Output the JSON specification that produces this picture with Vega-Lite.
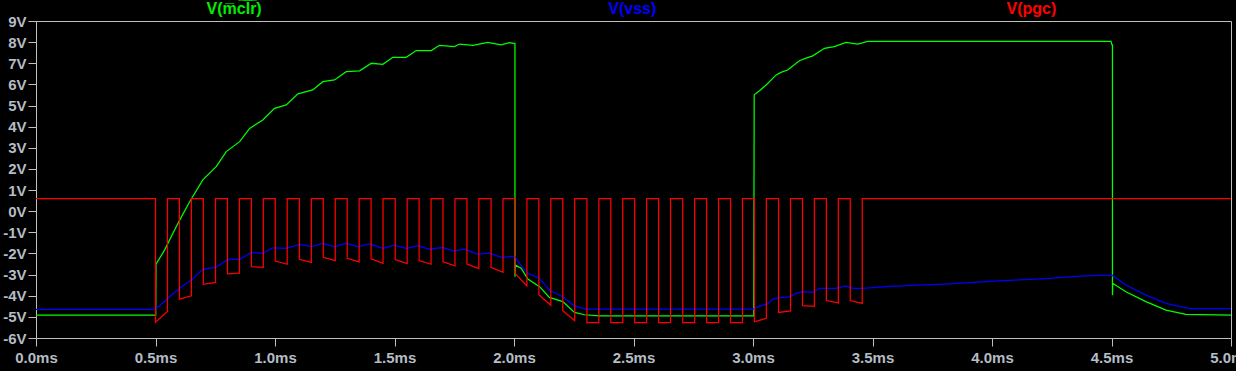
{
  "$schema": "https://vega.github.io/schema/vega-lite/v6.json",
  "width": 1195,
  "height": 317,
  "autosize": "none",
  "padding": {"left": 36, "top": 21, "right": 5, "bottom": 33},
  "background": "#000000",
  "config": {
    "view": {"stroke": "#c0c0c0", "strokeWidth": 1},
    "axis": {
      "grid": false,
      "domain": false,
      "title": null,
      "tickColor": "#c0c0c0",
      "tickSize": 8,
      "labelColor": "#b4bcc4",
      "labelFont": "Liberation Sans",
      "labelFontWeight": "bold",
      "labelFontSize": 15
    }
  },
  "datasets": {
    "mclr": [
      {"t":0,"v":-4.92},{"t":0.501,"v":-4.92},{"t":0.502,"v":-2.51},{"t":0.538,"v":-1.84},{"t":0.566,"v":-1.2},{"t":0.601,"v":-0.42},{"t":0.643,"v":0.45},{"t":0.698,"v":1.48},{"t":0.754,"v":2.11},{"t":0.796,"v":2.82},{"t":0.852,"v":3.29},{"t":0.894,"v":3.92},{"t":0.949,"v":4.32},{"t":0.998,"v":4.87},{"t":1.047,"v":5.03},{"t":1.096,"v":5.55},{"t":1.158,"v":5.74},{"t":1.2,"v":6.13},{"t":1.249,"v":6.21},{"t":1.298,"v":6.6},{"t":1.354,"v":6.64},{"t":1.403,"v":7.0},{"t":1.451,"v":6.95},{"t":1.493,"v":7.28},{"t":1.549,"v":7.28},{"t":1.591,"v":7.6},{"t":1.654,"v":7.6},{"t":1.688,"v":7.85},{"t":1.751,"v":7.79},{"t":1.772,"v":7.91},{"t":1.828,"v":7.85},{"t":1.89,"v":7.99},{"t":1.946,"v":7.87},{"t":1.981,"v":7.98},{"t":2.004,"v":7.93},{"t":2.004,"v":-3.1},{"t":2.006,"v":-2.55},{"t":2.03,"v":-2.7},{"t":2.058,"v":-3.21},{"t":2.107,"v":-3.57},{"t":2.148,"v":-4.08},{"t":2.204,"v":-4.28},{"t":2.253,"v":-4.79},{"t":2.295,"v":-4.9},{"t":2.357,"v":-4.95},{"t":3.003,"v":-4.95},{"t":3.005,"v":5.51},{"t":3.027,"v":5.7},{"t":3.055,"v":5.97},{"t":3.097,"v":6.45},{"t":3.117,"v":6.57},{"t":3.145,"v":6.68},{"t":3.194,"v":7.12},{"t":3.222,"v":7.24},{"t":3.25,"v":7.35},{"t":3.299,"v":7.71},{"t":3.34,"v":7.79},{"t":3.389,"v":7.99},{"t":3.438,"v":7.91},{"t":3.48,"v":8.04},{"t":4.498,"v":8.04},{"t":4.502,"v":7.87},{"t":4.504,"v":7.87},{"t":4.504,"v":-3.98},{"t":4.505,"v":-3.41},{"t":4.56,"v":-3.81},{"t":4.644,"v":-4.28},{"t":4.728,"v":-4.68},{"t":4.811,"v":-4.88},{"t":5.0,"v":-4.92}
    ],
    "vss": [
      {"t":0,"v":-4.64},{"t":0.5,"v":-4.64},{"t":0.559,"v":-4.05},{"t":0.601,"v":-3.65},{"t":0.65,"v":-3.26},{"t":0.698,"v":-2.75},{"t":0.754,"v":-2.65},{"t":0.803,"v":-2.28},{"t":0.852,"v":-2.28},{"t":0.901,"v":-1.95},{"t":0.949,"v":-1.99},{"t":0.991,"v":-1.73},{"t":1.047,"v":-1.76},{"t":1.103,"v":-1.57},{"t":1.152,"v":-1.68},{"t":1.2,"v":-1.52},{"t":1.249,"v":-1.68},{"t":1.298,"v":-1.52},{"t":1.347,"v":-1.68},{"t":1.396,"v":-1.55},{"t":1.451,"v":-1.76},{"t":1.5,"v":-1.61},{"t":1.549,"v":-1.76},{"t":1.598,"v":-1.63},{"t":1.647,"v":-1.8},{"t":1.702,"v":-1.71},{"t":1.744,"v":-1.88},{"t":1.793,"v":-1.8},{"t":1.849,"v":-2.04},{"t":1.898,"v":-1.98},{"t":1.946,"v":-2.18},{"t":2.002,"v":-2.14},{"t":2.03,"v":-2.59},{"t":2.058,"v":-2.94},{"t":2.107,"v":-3.18},{"t":2.148,"v":-3.73},{"t":2.204,"v":-4.05},{"t":2.253,"v":-4.49},{"t":2.302,"v":-4.63},{"t":3.0,"v":-4.63},{"t":3.027,"v":-4.49},{"t":3.061,"v":-4.39},{"t":3.082,"v":-4.17},{"t":3.11,"v":-4.09},{"t":3.152,"v":-4.05},{"t":3.18,"v":-3.89},{"t":3.208,"v":-3.81},{"t":3.25,"v":-3.84},{"t":3.278,"v":-3.65},{"t":3.348,"v":-3.65},{"t":3.389,"v":-3.54},{"t":3.417,"v":-3.65},{"t":3.459,"v":-3.65},{"t":3.571,"v":-3.56},{"t":3.82,"v":-3.44},{"t":4.03,"v":-3.3},{"t":4.24,"v":-3.18},{"t":4.351,"v":-3.08},{"t":4.449,"v":-3.04},{"t":4.504,"v":-3.04},{"t":4.56,"v":-3.49},{"t":4.644,"v":-3.97},{"t":4.728,"v":-4.36},{"t":4.825,"v":-4.61},{"t":5.0,"v":-4.61}
    ],
    "pgc": [
      {"t":0,"v":0.6},{"t":0.5,"v":0.6},{"t":0.5,"v":-5.25},{"t":0.55,"v":-4.75},{"t":0.55,"v":0.6},
      {"t":0.6,"v":0.6},{"t":0.6,"v":-4.16},{"t":0.65,"v":-4.0},{"t":0.65,"v":0.6},
      {"t":0.7,"v":0.6},{"t":0.7,"v":-3.46},{"t":0.751,"v":-3.37},{"t":0.751,"v":0.6},
      {"t":0.801,"v":0.6},{"t":0.801,"v":-2.96},{"t":0.851,"v":-2.93},{"t":0.851,"v":0.6},
      {"t":0.901,"v":0.6},{"t":0.901,"v":-2.62},{"t":0.951,"v":-2.66},{"t":0.951,"v":0.6},
      {"t":1.001,"v":0.6},{"t":1.001,"v":-2.36},{"t":1.051,"v":-2.51},{"t":1.051,"v":0.6},
      {"t":1.102,"v":0.6},{"t":1.102,"v":-2.28},{"t":1.152,"v":-2.42},{"t":1.152,"v":0.6},
      {"t":1.202,"v":0.6},{"t":1.202,"v":-2.18},{"t":1.252,"v":-2.34},{"t":1.252,"v":0.6},
      {"t":1.302,"v":0.6},{"t":1.302,"v":-2.23},{"t":1.352,"v":-2.4},{"t":1.352,"v":0.6},
      {"t":1.402,"v":0.6},{"t":1.402,"v":-2.25},{"t":1.452,"v":-2.47},{"t":1.452,"v":0.6},
      {"t":1.503,"v":0.6},{"t":1.503,"v":-2.29},{"t":1.553,"v":-2.48},{"t":1.553,"v":0.6},
      {"t":1.603,"v":0.6},{"t":1.603,"v":-2.34},{"t":1.653,"v":-2.51},{"t":1.653,"v":0.6},
      {"t":1.703,"v":0.6},{"t":1.703,"v":-2.4},{"t":1.753,"v":-2.59},{"t":1.753,"v":0.6},
      {"t":1.803,"v":0.6},{"t":1.803,"v":-2.5},{"t":1.853,"v":-2.72},{"t":1.853,"v":0.6},
      {"t":1.904,"v":0.6},{"t":1.904,"v":-2.66},{"t":1.954,"v":-2.89},{"t":1.954,"v":0.6},
      {"t":2.004,"v":0.6},{"t":2.004,"v":-2.94},{"t":2.054,"v":-3.54},{"t":2.054,"v":0.6},
      {"t":2.104,"v":0.6},{"t":2.104,"v":-3.95},{"t":2.154,"v":-4.45},{"t":2.154,"v":0.6},
      {"t":2.204,"v":0.6},{"t":2.204,"v":-4.71},{"t":2.254,"v":-5.18},{"t":2.254,"v":0.6},
      {"t":2.305,"v":0.6},{"t":2.305,"v":-5.27},{"t":2.355,"v":-5.27},{"t":2.355,"v":0.6},
      {"t":2.405,"v":0.6},{"t":2.405,"v":-5.27},{"t":2.455,"v":-5.27},{"t":2.455,"v":0.6},
      {"t":2.505,"v":0.6},{"t":2.505,"v":-5.27},{"t":2.555,"v":-5.27},{"t":2.555,"v":0.6},
      {"t":2.605,"v":0.6},{"t":2.605,"v":-5.27},{"t":2.655,"v":-5.27},{"t":2.655,"v":0.6},
      {"t":2.706,"v":0.6},{"t":2.706,"v":-5.27},{"t":2.756,"v":-5.27},{"t":2.756,"v":0.6},
      {"t":2.806,"v":0.6},{"t":2.806,"v":-5.27},{"t":2.856,"v":-5.27},{"t":2.856,"v":0.6},
      {"t":2.906,"v":0.6},{"t":2.906,"v":-5.27},{"t":2.956,"v":-5.27},{"t":2.956,"v":0.6},
      {"t":3.006,"v":0.6},{"t":3.006,"v":-5.23},{"t":3.056,"v":-5.07},{"t":3.056,"v":0.6},
      {"t":3.107,"v":0.6},{"t":3.107,"v":-4.79},{"t":3.157,"v":-4.72},{"t":3.157,"v":0.6},
      {"t":3.207,"v":0.6},{"t":3.207,"v":-4.47},{"t":3.257,"v":-4.5},{"t":3.257,"v":0.6},
      {"t":3.307,"v":0.6},{"t":3.307,"v":-4.23},{"t":3.357,"v":-4.34},{"t":3.357,"v":0.6},
      {"t":3.407,"v":0.6},{"t":3.407,"v":-4.23},{"t":3.457,"v":-4.36},{"t":3.457,"v":0.6},
      {"t":5.0,"v":0.6}
    ],
    "labels": [
      {"s":"mclr","label":"V(m\u0305c\u0305l\u0305r\u0305)","t":0.829,"v":9.57},
      {"s":"vss","label":"V(vss)","t":2.495,"v":9.57},
      {"s":"pgc","label":"V(pgc)","t":4.165,"v":9.57}
    ]
  },
  "encoding": {
    "x": {
      "field": "t", "type": "quantitative",
      "scale": {"domain": [0, 5], "nice": false, "zero": false},
      "axis": {
        "values": [0, 0.5, 1, 1.5, 2, 2.5, 3, 3.5, 4, 4.5, 5],
        "labelExpr": "format(datum.value, '.1f') + 'ms'",
        "labelPadding": 4,
        "labelFlush": false,
        "labelOverlap": false,
        "labelBound": false
      }
    },
    "y": {
      "field": "v", "type": "quantitative",
      "scale": {"domain": [-6, 9], "nice": false, "zero": false},
      "axis": {
        "values": [-6, -5, -4, -3, -2, -1, 0, 1, 2, 3, 4, 5, 6, 7, 8, 9],
        "labelExpr": "datum.value + 'V'",
        "labelPadding": 2,
        "labelFlush": false,
        "labelOverlap": false,
        "labelBound": false
      }
    }
  },
  "layer": [
    {
      "data": {"name": "mclr"},
      "mark": {"type": "line", "strokeWidth": 1.25, "color": "#00ff00", "clip": true},
      "encoding": {"order": {"value": null}}
    },
    {
      "data": {"name": "vss"},
      "mark": {"type": "line", "strokeWidth": 1.25, "color": "#0000ff", "clip": true},
      "encoding": {"order": {"value": null}}
    },
    {
      "data": {"name": "pgc"},
      "mark": {"type": "line", "strokeWidth": 1.25, "color": "#ff0000", "clip": true},
      "encoding": {"order": {"value": null}}
    },
    {
      "data": {"name": "labels"},
      "mark": {"type": "text", "font": "Liberation Sans", "fontWeight": "bold", "fontSize": 16, "baseline": "middle", "align": "center", "clip": false},
      "encoding": {
        "text": {"field": "label"},
        "color": {
          "field": "s", "type": "nominal",
          "scale": {"domain": ["mclr", "vss", "pgc"], "range": ["#00ee00", "#0000ff", "#ff0000"]},
          "legend": null
        }
      }
    }
  ]
}
